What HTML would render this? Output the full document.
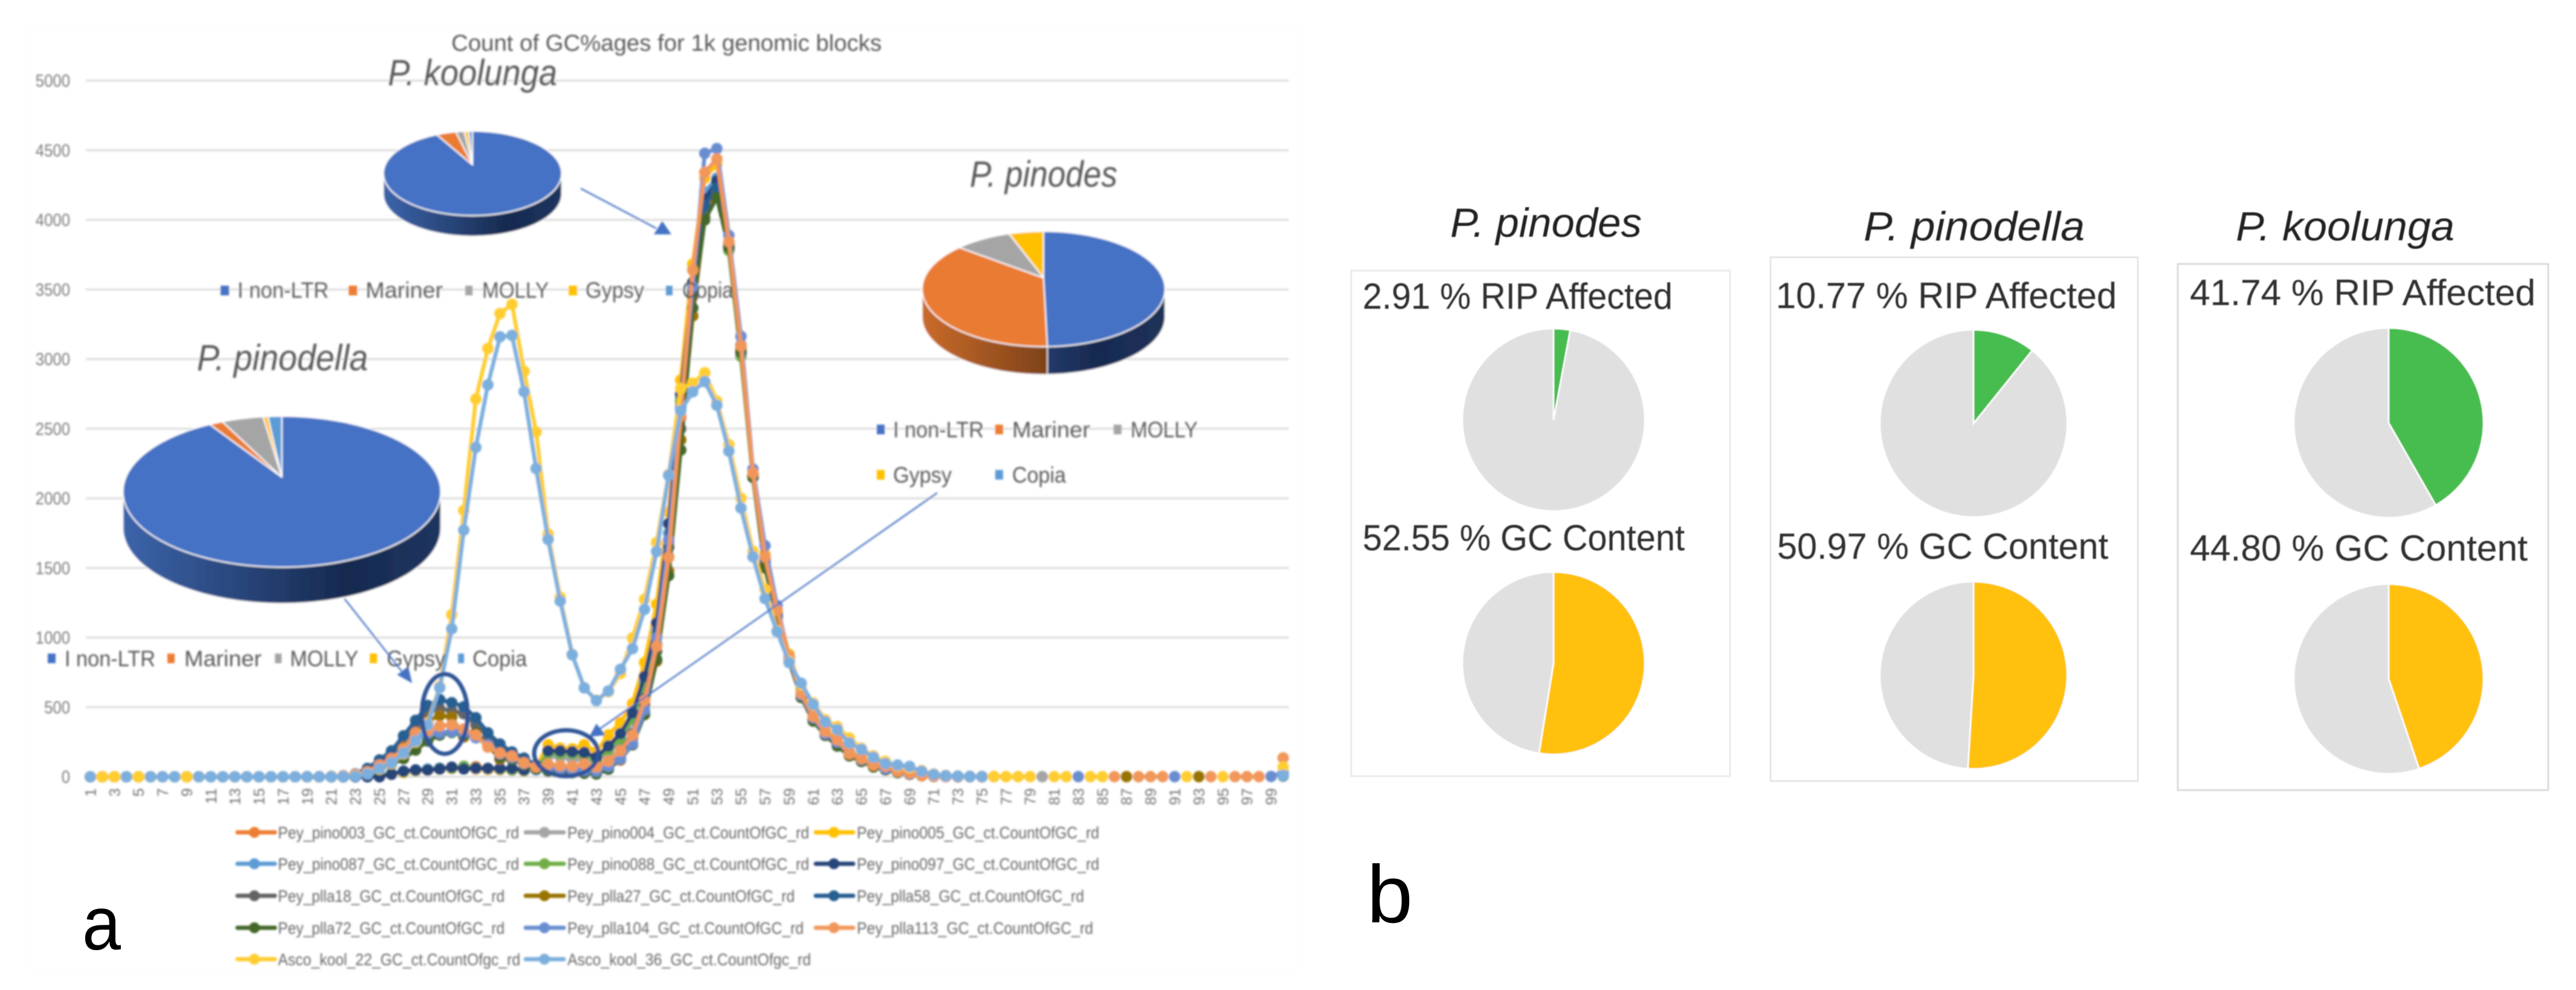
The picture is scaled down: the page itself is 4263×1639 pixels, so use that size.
<!DOCTYPE html>
<html lang="en">
<head>
<meta charset="utf-8">
<title>Count of GC%ages for 1k genomic blocks</title>
<style>
html,body{margin:0;padding:0;background:#fff;}
svg{display:block;font-family:"Liberation Sans",sans-serif;}
.leg{font-size:37px;fill:#595959;}
.sleg{font-size:28px;fill:#666;}
.sp{font-size:60px;font-style:italic;fill:#595959;}
.bt{font-size:68px;font-style:italic;fill:#222;}
.st{font-size:60px;fill:#333;stroke:#333;stroke-width:0.7;}
</style>
</head>
<body>
<svg id="fig" xmlns="http://www.w3.org/2000/svg" width="4263" height="1639" viewBox="0 0 4263 1639">
<defs>
<filter id="soft" x="-2%" y="-2%" width="104%" height="104%"><feGaussianBlur stdDeviation="1.5"/></filter>
<filter id="softer" x="-2%" y="-2%" width="104%" height="104%"><feGaussianBlur stdDeviation="0.8"/></filter>
<linearGradient id="sideBlueFull" x1="0" x2="1" y1="0" y2="0"><stop offset="0" stop-color="#3c64aa"/><stop offset="0.7" stop-color="#162a4f"/><stop offset="1" stop-color="#1e3560"/></linearGradient>
<linearGradient id="sideBlueRight" x1="0" x2="1" y1="0" y2="0"><stop offset="0" stop-color="#22396a"/><stop offset="0.4" stop-color="#182b50"/><stop offset="1" stop-color="#1c3158"/></linearGradient>
<linearGradient id="sideOrange" x1="0" x2="1" y1="0" y2="0"><stop offset="0" stop-color="#c96b2a"/><stop offset="1" stop-color="#7e4218"/></linearGradient>
</defs>
<rect width="4263" height="1639" fill="#fff"/>

<g filter="url(#soft)">
<rect x="50" y="42" width="2098" height="1567" fill="none" stroke="#fdfdfd" stroke-width="2"/>
<text x="747" y="84" font-size="38" fill="#595959" textLength="712" lengthAdjust="spacingAndGlyphs">Count of GC%ages for 1k genomic blocks</text>
<g id="grid"></g>
<g id="yticks"></g>
<g id="xticks"></g>
<g id="lines"></g>

<g stroke-linecap="round">
<g><line x1="393" x2="455" y1="1378" y2="1378" stroke="#ed7d31" stroke-width="7"/><circle cx="421" cy="1378" r="9" fill="#ed7d31"/><text class="sleg" x="460" y="1388" textLength="399" lengthAdjust="spacingAndGlyphs">Pey_pino003_GC_ct.CountOfGC_rd</text></g>
<g><line x1="870" x2="933" y1="1378" y2="1378" stroke="#a5a5a5" stroke-width="7"/><circle cx="901" cy="1378" r="9" fill="#a5a5a5"/><text class="sleg" x="939" y="1388" textLength="400" lengthAdjust="spacingAndGlyphs">Pey_pino004_GC_ct.CountOfGC_rd</text></g>
<g><line x1="1350" x2="1412" y1="1378" y2="1378" stroke="#ffc000" stroke-width="7"/><circle cx="1380" cy="1378" r="9" fill="#ffc000"/><text class="sleg" x="1418" y="1388" textLength="401" lengthAdjust="spacingAndGlyphs">Pey_pino005_GC_ct.CountOfGC_rd</text></g>
<g><line x1="393" x2="455" y1="1430" y2="1430" stroke="#5b9bd5" stroke-width="7"/><circle cx="421" cy="1430" r="9" fill="#5b9bd5"/><text class="sleg" x="460" y="1440" textLength="399" lengthAdjust="spacingAndGlyphs">Pey_pino087_GC_ct.CountOfGC_rd</text></g>
<g><line x1="870" x2="933" y1="1430" y2="1430" stroke="#70ad47" stroke-width="7"/><circle cx="901" cy="1430" r="9" fill="#70ad47"/><text class="sleg" x="939" y="1440" textLength="400" lengthAdjust="spacingAndGlyphs">Pey_pino088_GC_ct.CountOfGC_rd</text></g>
<g><line x1="1350" x2="1412" y1="1430" y2="1430" stroke="#264478" stroke-width="7"/><circle cx="1380" cy="1430" r="9" fill="#264478"/><text class="sleg" x="1418" y="1440" textLength="401" lengthAdjust="spacingAndGlyphs">Pey_pino097_GC_ct.CountOfGC_rd</text></g>
<g><line x1="393" x2="455" y1="1483" y2="1483" stroke="#636363" stroke-width="7"/><circle cx="421" cy="1483" r="9" fill="#636363"/><text class="sleg" x="460" y="1493" textLength="375" lengthAdjust="spacingAndGlyphs">Pey_plla18_GC_ct.CountOfGC_rd</text></g>
<g><line x1="870" x2="933" y1="1483" y2="1483" stroke="#997300" stroke-width="7"/><circle cx="901" cy="1483" r="9" fill="#997300"/><text class="sleg" x="939" y="1493" textLength="376" lengthAdjust="spacingAndGlyphs">Pey_plla27_GC_ct.CountOfGC_rd</text></g>
<g><line x1="1350" x2="1412" y1="1483" y2="1483" stroke="#255e91" stroke-width="7"/><circle cx="1380" cy="1483" r="9" fill="#255e91"/><text class="sleg" x="1418" y="1493" textLength="376" lengthAdjust="spacingAndGlyphs">Pey_plla58_GC_ct.CountOfGC_rd</text></g>
<g><line x1="393" x2="455" y1="1536" y2="1536" stroke="#43682b" stroke-width="7"/><circle cx="421" cy="1536" r="9" fill="#43682b"/><text class="sleg" x="460" y="1546" textLength="375" lengthAdjust="spacingAndGlyphs">Pey_plla72_GC_ct.CountOfGC_rd</text></g>
<g><line x1="870" x2="933" y1="1536" y2="1536" stroke="#698ed0" stroke-width="7"/><circle cx="901" cy="1536" r="9" fill="#698ed0"/><text class="sleg" x="939" y="1546" textLength="391" lengthAdjust="spacingAndGlyphs">Pey_plla104_GC_ct.CountOfGC_rd</text></g>
<g><line x1="1350" x2="1412" y1="1536" y2="1536" stroke="#f1975a" stroke-width="7"/><circle cx="1380" cy="1536" r="9" fill="#f1975a"/><text class="sleg" x="1418" y="1546" textLength="391" lengthAdjust="spacingAndGlyphs">Pey_plla113_GC_ct.CountOfGC_rd</text></g>
<g><line x1="393" x2="455" y1="1588" y2="1588" stroke="#ffcd33" stroke-width="7"/><circle cx="421" cy="1588" r="9" fill="#ffcd33"/><text class="sleg" x="460" y="1598" textLength="401" lengthAdjust="spacingAndGlyphs">Asco_kool_22_GC_ct.CountOfgc_rd</text></g>
<g><line x1="870" x2="933" y1="1588" y2="1588" stroke="#7cafdd" stroke-width="7"/><circle cx="901" cy="1588" r="9" fill="#7cafdd"/><text class="sleg" x="939" y="1598" textLength="403" lengthAdjust="spacingAndGlyphs">Asco_kool_36_GC_ct.CountOfgc_rd</text></g>
</g>

<g id="pies3d"></g>

<text class="sp" x="642" y="141" textLength="280" lengthAdjust="spacingAndGlyphs">P. koolunga</text>
<text class="sp" x="326" y="613" textLength="283" lengthAdjust="spacingAndGlyphs">P. pinodella</text>
<text class="sp" x="1605" y="309" textLength="244" lengthAdjust="spacingAndGlyphs">P. pinodes</text>

<g>
<rect x="365" y="473" width="14" height="16" fill="#4472c4"/><text class="leg" x="393" y="493" textLength="151" lengthAdjust="spacingAndGlyphs">I non-LTR</text>
<rect x="577" y="473" width="14" height="16" fill="#ed7d31"/><text class="leg" x="605" y="493" textLength="128" lengthAdjust="spacingAndGlyphs">Mariner</text>
<rect x="770" y="473" width="12" height="16" fill="#a5a5a5"/><text class="leg" x="798" y="493" textLength="110" lengthAdjust="spacingAndGlyphs">MOLLY</text>
<rect x="941" y="473" width="14" height="16" fill="#ffc000"/><text class="leg" x="969" y="493" textLength="97" lengthAdjust="spacingAndGlyphs">Gypsy</text>
<rect x="1102" y="473" width="11" height="16" fill="#5b9bd5"/><text class="leg" x="1129" y="493" textLength="84" lengthAdjust="spacingAndGlyphs">Copia</text>
</g>
<g>
<rect x="1451" y="703" width="13" height="16" fill="#4472c4"/><text class="leg" x="1478" y="724" textLength="150" lengthAdjust="spacingAndGlyphs">I non-LTR</text>
<rect x="1647" y="703" width="13" height="16" fill="#ed7d31"/><text class="leg" x="1675" y="724" textLength="129" lengthAdjust="spacingAndGlyphs">Mariner</text>
<rect x="1843" y="703" width="13" height="16" fill="#a5a5a5"/><text class="leg" x="1871" y="724" textLength="111" lengthAdjust="spacingAndGlyphs">MOLLY</text>
<rect x="1451" y="778" width="13" height="16" fill="#ffc000"/><text class="leg" x="1478" y="799" textLength="97" lengthAdjust="spacingAndGlyphs">Gypsy</text>
<rect x="1647" y="778" width="13" height="16" fill="#5b9bd5"/><text class="leg" x="1675" y="799" textLength="89" lengthAdjust="spacingAndGlyphs">Copia</text>
</g>
<g>
<rect x="79" y="1082" width="13" height="16" fill="#4472c4"/><text class="leg" x="107" y="1103" textLength="150" lengthAdjust="spacingAndGlyphs">I non-LTR</text>
<rect x="277" y="1082" width="12" height="16" fill="#ed7d31"/><text class="leg" x="305" y="1103" textLength="128" lengthAdjust="spacingAndGlyphs">Mariner</text>
<rect x="455" y="1082" width="11" height="16" fill="#a5a5a5"/><text class="leg" x="480" y="1103" textLength="113" lengthAdjust="spacingAndGlyphs">MOLLY</text>
<rect x="612" y="1082" width="12" height="16" fill="#ffc000"/><text class="leg" x="640" y="1103" textLength="97" lengthAdjust="spacingAndGlyphs">Gypsy</text>
<rect x="758" y="1082" width="10" height="16" fill="#5b9bd5"/><text class="leg" x="782" y="1103" textLength="90" lengthAdjust="spacingAndGlyphs">Copia</text>
</g>

<g>
<line x1="961" y1="312" x2="1086" y2="378" stroke="#4472c4" stroke-width="2.5"/>
<polygon points="1096,366 1082,388 1111,388" fill="#4472c4"/>
<line x1="570" y1="991" x2="670" y2="1118" stroke="#4472c4" stroke-width="2.5"/>
<polygon points="657,1117 676,1105 682,1131" fill="#4472c4"/>
<line x1="1551" y1="816" x2="985" y2="1212" stroke="#4472c4" stroke-width="2.5"/>
<polygon points="975,1220 987,1198 1002,1217" fill="#4472c4"/>
<ellipse cx="736" cy="1182" rx="38" ry="66" fill="none" stroke="#2f5496" stroke-width="7"/>
<ellipse cx="937" cy="1247" rx="53" ry="38" fill="none" stroke="#2f5496" stroke-width="7"/>
</g>
</g>

<text x="136" y="1572" font-size="125" fill="#000" textLength="64" lengthAdjust="spacingAndGlyphs">a</text>
<text x="2262" y="1527" font-size="135" fill="#000" textLength="76" lengthAdjust="spacingAndGlyphs">b</text>

<g filter="url(#softer)">
<rect x="2236" y="448" width="627" height="837" fill="#fff" stroke="#e6e6e6" stroke-width="2.5"/>
<rect x="2930" y="426" width="608" height="867" fill="#fff" stroke="#e0e0e0" stroke-width="2.5"/>
<rect x="3604" y="437" width="613" height="871" fill="#fff" stroke="#d4d4d4" stroke-width="2.5"/>
<text class="bt" x="2400" y="392" textLength="317" lengthAdjust="spacingAndGlyphs">P. pinodes</text>
<text class="bt" x="3084" y="398" textLength="366" lengthAdjust="spacingAndGlyphs">P. pinodella</text>
<text class="bt" x="3700" y="398" textLength="362" lengthAdjust="spacingAndGlyphs">P. koolunga</text>
<text class="st" x="2255" y="511" textLength="513" lengthAdjust="spacingAndGlyphs">2.91 % RIP Affected</text>
<text class="st" x="2255" y="911" textLength="533" lengthAdjust="spacingAndGlyphs">52.55 % GC Content</text>
<text class="st" x="2939" y="510" textLength="564" lengthAdjust="spacingAndGlyphs">10.77 % RIP Affected</text>
<text class="st" x="2941" y="925" textLength="548" lengthAdjust="spacingAndGlyphs">50.97 % GC Content</text>
<text class="st" x="3624" y="505" textLength="572" lengthAdjust="spacingAndGlyphs">41.74 % RIP Affected</text>
<text class="st" x="3624" y="928" textLength="559" lengthAdjust="spacingAndGlyphs">44.80 % GC Content</text>
<g id="pies2d"></g>
</g>
</svg>

<script>
const n = null;

const categories = [
1,2,3,4,5,6,7,8,9,10,11,12,13,14,15,16,17,18,19,20,
21,22,23,24,25,26,27,28,29,30,31,32,33,34,35,36,37,38,39,40,
41,42,43,44,45,46,47,48,49,50,51,52,53,54,55,56,57,58,59,60,
61,62,63,64,65,66,67,68,69,70,71,72,73,74,75,76,77,78,79,80,
81,82,83,84,85,86,87,88,89,90,91,92,93,94,95,96,97,98,99,100];

const yTickLabels = [0,500,1000,1500,2000,2500,3000,3500,4000,4500,5000];

const pino003 = [
0,0,0,0,0,0,0,0,0,0,
0,0,0,0,0,0,0,0,0,0,
0,0,1,2,6,18,34,44,50,56,
60,70,72,55,52,48,42,60,160,150,
140,130,110,185,265,410,640,1010,1690,2680,
3500,4140,4270,3790,3040,2165,1545,1165,845,592,
418,318,248,168,128,82,60,38,24,9,
3,2,1,1,1,n,n,n,n,n,
n,n,n,n,n,n,n,n,n,n,
n,n,n,n,n,n,n,n,n,20];

const pino004 = [
0,0,0,0,0,0,0,0,0,0,
0,0,0,0,0,0,0,0,0,0,
0,0,1,2,6,18,32,44,50,56,
60,62,58,55,52,48,42,60,150,140,
125,115,110,180,260,400,630,1000,1680,2660,
3480,4120,4260,3790,3030,2160,1540,1160,840,590,
415,315,245,165,125,80,58,38,22,9,
3,2,1,1,1,n,n,n,n,1,
n,n,n,n,n,n,n,n,n,n,
n,n,n,n,n,n,n,n,n,18];

const pino005 = [
0,0,0,0,0,0,0,0,0,0,
0,0,0,0,0,0,0,0,0,0,
0,0,1,2,6,18,30,42,48,55,
60,58,55,52,50,48,42,70,230,205,
200,230,180,300,390,525,820,1240,1900,2850,
3683,4300,4400,3830,3060,2170,1600,1200,880,630,
440,340,270,185,140,95,70,45,28,12,
5,3,2,1,1,n,n,n,n,n,
n,n,n,n,n,n,n,n,n,n,
n,n,n,n,n,n,n,n,n,25];

const pino087 = [
0,0,0,0,0,0,0,0,0,0,
0,0,0,0,0,0,0,0,0,0,
0,0,1,3,8,22,38,50,55,62,
65,70,60,58,55,50,45,50,175,170,
170,165,125,200,280,430,680,1050,1750,2720,
3520,4200,4300,3800,3040,2160,1540,1165,845,595,
418,318,248,168,128,82,60,38,24,9,
3,2,1,1,1,n,n,n,n,n,
n,n,n,n,n,n,n,n,n,n,
n,n,n,n,n,n,n,n,n,15];

const pino088 = [
0,0,0,0,0,0,0,0,0,0,
0,0,0,0,0,0,0,0,0,0,
0,0,1,3,8,20,35,45,50,58,
62,75,65,58,55,50,45,60,170,165,
165,155,120,195,270,420,660,1020,1700,2700,
3500,4110,4250,3780,3020,2150,1530,1160,840,590,
415,315,245,165,125,80,58,38,22,9,
3,2,1,1,1,n,n,n,n,n,
n,n,n,n,n,n,n,n,n,n,
n,n,n,n,n,n,n,n,n,12];

const pino097 = [
0,0,0,0,0,0,0,0,0,0,
0,0,0,0,0,0,0,0,0,0,
0,0,0,0,0,18,40,48,48,56,
69,56,61,60,60,60,48,n,186,186,
180,175,140,221,310,458,720,1104,1818,2750,
3550,4150,4280,3800,3050,2170,1550,1170,850,600,
420,320,250,170,130,85,60,40,25,10,
4,2,1,1,1,n,n,n,n,n,
n,n,n,n,n,n,n,n,n,n,
n,n,n,n,n,n,n,n,n,12];

const plla18 = [
0,0,0,0,0,0,0,0,0,0,
0,0,0,0,0,0,0,0,0,1,
3,7,15,45,100,160,260,370,460,490,
474,453,373,286,200,150,110,70,55,50,
45,42,60,100,170,280,520,900,1580,2500,
3450,4060,4200,3830,3090,2170,1570,1180,850,585,
420,310,245,165,125,80,60,38,22,9,
3,2,1,1,1,n,n,n,n,n,
n,n,n,n,n,n,n,n,n,n,
n,n,n,n,n,n,n,n,n,14];

const plla27 = [
0,0,0,0,0,0,0,0,0,0,
0,0,0,0,0,0,0,0,0,1,
3,6,12,35,90,140,220,310,400,440,
430,286,310,230,126,130,95,60,50,45,
40,35,30,60,120,235,470,830,1480,2420,
3310,4020,4190,3810,3070,2160,1530,1150,840,575,
405,305,235,155,115,72,52,32,18,7,
3,2,1,1,1,n,n,n,n,n,
n,n,n,n,n,n,1,n,n,n,
n,n,1,n,n,n,n,n,n,10];

const plla58 = [
0,0,0,0,0,0,0,0,0,0,
0,0,0,0,0,0,0,0,0,1,
4,8,20,60,121,186,294,405,512,554,
532,503,424,316,235,178,134,84,70,60,
55,50,70,110,190,310,560,950,1650,2580,
3480,4100,4230,3820,3100,2150,1560,1170,850,580,
410,300,240,160,120,75,55,35,20,8,
3,2,1,1,1,n,n,n,n,n,
n,n,n,n,n,n,n,n,n,n,
n,n,n,n,n,n,n,n,n,10];

const plla72 = [
0,0,0,0,0,0,0,0,0,0,
0,0,0,0,0,0,0,0,0,0,
2,5,10,25,50,90,130,192,257,300,
318,300,315,220,140,125,85,55,40,35,
30,25,20,54,130,230,447,843,1445,2347,
3367,4000,4160,3800,3050,2150,1500,1140,830,570,
400,297,221,150,110,70,50,30,18,7,
3,2,1,1,0,n,n,n,n,n,
n,n,n,n,n,n,n,n,n,n,
n,n,n,n,n,n,n,n,n,5];

const plla104 = [
0,0,0,0,0,0,0,0,0,0,
0,0,0,0,0,0,0,0,1,1,
3,6,12,30,70,120,180,270,310,316,
325,318,280,230,165,140,95,70,62,55,
50,45,40,75,130,240,480,1000,1700,2650,
3520,4478,4512,3888,3163,2210,1660,1230,860,590,
425,310,250,170,125,85,60,40,22,10,
4,3,2,1,1,1,n,n,n,n,
n,n,1,n,n,n,n,n,n,n,
1,n,n,n,n,n,n,n,2,30];

const plla113 = [
0,0,0,0,0,0,0,0,0,0,
0,0,0,0,0,0,0,0,1,2,
4,8,15,35,84,130,200,316,330,364,
373,343,300,213,170,148,100,70,91,80,
75,91,70,113,187,299,548,937,1575,2590,
3640,4342,4438,3843,3094,2182,1580,1194,866,600,
433,325,265,165,130,84,74,39,27,8,
5,3,2,2,1,1,n,n,n,n,
n,n,n,n,n,1,n,1,1,1,
n,n,n,1,n,1,1,1,n,136];

const ascoKool22 = [
0,0,0,0,0,0,0,0,0,0,
0,1,0,1,0,0,0,0,1,1,
3,4,8,22,55,95,165,250,385,650,
1165,1913,2713,3076,3327,3394,2913,2477,1743,1290,
880,640,550,610,742,997,1274,1683,2170,2789,
2827,2902,2698,2385,2000,1620,1346,1050,830,660,
530,410,360,278,205,150,110,80,65,45,
20,10,6,4,3,2,1,1,1,n,
1,1,n,1,1,n,n,n,n,n,
n,1,n,n,1,n,n,n,n,70];

const ascoKool36 = [
0,n,n,0,n,0,0,0,n,0,
0,0,0,0,0,0,0,0,1,1,
1,2,4,20,60,100,170,257,373,640,
1063,1772,2366,2815,3160,3170,2766,2214,1705,1262,
876,638,547,616,772,920,1202,1618,2165,2629,
2765,2838,2668,2339,1930,1580,1280,1043,820,672,
520,395,339,243,197,140,95,84,74,39,
17,8,5,3,2,n,n,n,n,n,
n,n,n,n,n,n,n,n,n,n,
n,n,n,n,n,n,n,n,n,10];

const seriesOrder = [pino003,pino004,pino005,pino087,pino088,pino097,plla18,plla27,plla58,plla72,plla104,plla113,ascoKool22,ascoKool36];
const seriesNames = ['pino003','pino004','pino005','pino087','pino088','pino097','plla18','plla27','plla58','plla72','plla104','plla113','asco-kool-22','asco-kool-36'];
const palette = ['#ed7d31','#a5a5a5','#ffc000','#5b9bd5','#70ad47','#264478','#636363','#997300','#255e91','#43682b','#698ed0','#f1975a','#ffcd33','#7cafdd'];

/* transposable-element shares (%), order: I non-LTR, Mariner, MOLLY, Gypsy, Copia */
const teLabels = ['i-non-ltr','mariner','molly','gypsy','copia'];
const koolungaTE = [93.4,3.6,1.5,0.8,0.7];
const pinodesTE = [49.5,38.3,7.6,4.6,0];
const pinodellaTE = [92.5,1.4,4.2,0.5,1.4];

/* RIP / GC percentages per species: pinodes, pinodella, koolunga */
const speciesKeys = ['pinodes','pinodella','koolunga'];
const ripAffected = [2.91,10.77,41.74];
const gcContent = [52.55,50.97,44.80];

const SVGNS = 'http://www.w3.org/2000/svg';
function mk(tag, attrs, parent){
  const el = document.createElementNS(SVGNS, tag);
  for (const k in attrs) el.setAttribute(k, attrs[k]);
  parent.appendChild(el);
  return el;
}
function xScale(c){ return 149.4 + (c - 1) * 19.94; }
function yScale(v){ return 1286 - v * 0.2305; }

const gridG = document.getElementById('grid');
const yG = document.getElementById('yticks');
const xG = document.getElementById('xticks');
const linesG = document.getElementById('lines');

yTickLabels.forEach(function(t){
  const g = mk('line', {x1:142, x2:2133, y1:yScale(t), y2:yScale(t), stroke:'#dadada', 'stroke-width':3}, gridG);
  
  
  const digits = String(t).length;
  const l = mk('text', {x:116, y:yScale(t) + 10, 'text-anchor':'end', 'font-size':29, fill:'#7a7a7a', textLength:digits * 14.3, lengthAdjust:'spacingAndGlyphs'}, yG);
  l.textContent = t;
  
  
});

categories.forEach(function(c){
  if (c % 2 === 0) return;
  const px = xScale(c) + 9;
  const l = mk('text', {x:px, y:1305, 'text-anchor':'end', 'font-size':25, fill:'#6e6e6e', transform:'rotate(-90 ' + px + ' 1305)'}, xG);
  l.textContent = c;
  
  
});

seriesOrder.forEach(function(vals, si){
  const color = palette[si];
  const g = mk('g', {}, linesG);
  
  
  let d = '';
  let pen = false;
  vals.forEach(function(v, i){
    if (v === null) { pen = false; return; }
    d += (pen ? 'L' : 'M') + xScale(categories[i]).toFixed(1) + ' ' + yScale(v).toFixed(1);
    pen = true;
  });
  const p = mk('path', {d:d, fill:'none', stroke:color, 'stroke-width':6.5, 'stroke-linejoin':'round', 'stroke-linecap':'round'}, g);
  
  
  vals.forEach(function(v, i){
    if (v === null) return;
    const m = mk('circle', {cx:xScale(categories[i]).toFixed(1), cy:yScale(v).toFixed(1), r:9.5, fill:color}, g);
    
    
  });
});

const teColors = ['#4472c4','#e97c30','#a5a5a5','#ffc000','#5b9bd5'];
function ellipsePt(cx, cy, rx, ry, deg){
  const a = deg * Math.PI / 180;
  return [cx + rx * Math.sin(a), cy - ry * Math.cos(a)];
}
function arcPts(cx, cy, rx, ry, a0, a1){
  const pts = [];
  const steps = Math.max(2, Math.ceil(Math.abs(a1 - a0) / 2));
  for (let i = 0; i <= steps; i++) {
    pts.push(ellipsePt(cx, cy, rx, ry, a0 + (a1 - a0) * i / steps));
  }
  return pts;
}
function pts2d(pts){ return pts.map(function(p){ return p[0].toFixed(1) + ' ' + p[1].toFixed(1); }).join('L'); }

function pie3d(key, vals, cx, cy, apexY, rx, ry, depth, sideFills){
  const root = document.getElementById('pies3d');
  const g = mk('g', {}, root);
  
  
  const total = vals.reduce(function(a,b){ return a + b; }, 0);
  let a = 0;
  const spans = vals.map(function(v){ const s = [a, a + v / total * 360]; a = s[1]; return s; });
  spans.forEach(function(s, i){
    const a0 = Math.max(s[0], 90), a1 = Math.min(s[1], 270);
    if (a1 <= a0) return;
    const top = arcPts(cx, cy, rx, ry, a0, a1);
    const bot = arcPts(cx, cy + depth, rx, ry, a1, a0);
    const side = mk('path', {d:'M' + pts2d(top) + 'L' + pts2d(bot) + 'Z', fill:sideFills[i] || teColors[i], stroke:'#fff', 'stroke-width':1.5}, g);
    
    
  });
  spans.forEach(function(s, i){
    if (s[1] - s[0] <= 0) return;
    const arc = arcPts(cx, cy, rx, ry, s[0], s[1]);
    const slice = mk('path', {d:'M' + cx + ' ' + apexY + 'L' + pts2d(arc) + 'Z', fill:teColors[i], stroke:'#fff', 'stroke-width':2, 'stroke-linejoin':'round'}, g);
    
    
  });
}
pie3d('koolunga', koolungaTE, 782, 287, 273, 147.5, 70, 34, ['url(#sideBlueFull)']);
pie3d('pinodes', pinodesTE, 1727, 478.5, 460, 201, 95.5, 46, ['url(#sideBlueRight)','url(#sideOrange)']);
pie3d('pinodella', pinodellaTE, 466.5, 814, 790, 263, 125, 60, ['url(#sideBlueFull)']);

const rip2dCenters = [[2571,695,151],[3266,701,155],[3953,700,157]];
const gc2dCenters = [[2571,1098,151],[3266,1118,155],[3953,1124,157]];
function pie2d(name, pct, geom, color){
  const root = document.getElementById('pies2d');
  const g = mk('g', {}, root);
  
  
  const cx = geom[0], cy = geom[1], r = geom[2];
  const split = pct / 100 * 360;
  const rest = mk('path', {d:'M' + cx + ' ' + cy + 'L' + pts2d(arcPts(cx, cy, r, r, split, 360)) + 'Z', fill:'#e0e0e0', stroke:'#fff', 'stroke-width':2.5}, g);
  
  
  const val = mk('path', {d:'M' + cx + ' ' + cy + 'L' + pts2d(arcPts(cx, cy, r, r, 0, split)) + 'Z', fill:color, stroke:'#fff', 'stroke-width':2.5}, g);
  
  
}
speciesKeys.forEach(function(k, i){
  pie2d(k + '-rip-pie', ripAffected[i], rip2dCenters[i], '#47bd4f');
  pie2d(k + '-gc-pie', gcContent[i], gc2dCenters[i], '#ffc107');
});
</script>
</body>
</html>
